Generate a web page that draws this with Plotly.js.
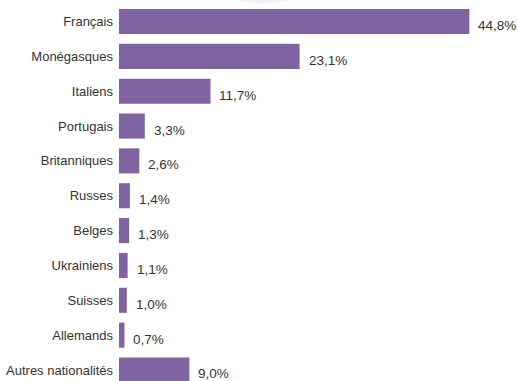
<!DOCTYPE html>
<html><head><meta charset="utf-8">
<script src="https://cdn.plot.ly/plotly-3.0.1.min.js"></script>
<style>html,body{margin:0;padding:0;background:#fff;}#chart{width:517px;height:381px;}</style>
</head><body><div id="chart"></div>
<script>
var categories = ["Français","Monégasques","Italiens","Portugais","Britanniques","Russes","Belges","Ukrainiens","Suisses","Allemands","Autres nationalités"];
var values = [44.8, 23.1, 11.7, 3.3, 2.6, 1.4, 1.3, 1.1, 1.0, 0.7, 9.0];
var valueLabels = ["44,8%","23,1%","11,7%","3,3%","2,6%","1,4%","1,3%","1,1%","1,0%","0,7%","9,0%"];

var FONT = "Liberation Sans, Arial, sans-serif";
var TXT = "#333333";

var trace = {
  type: "bar", orientation: "h",
  x: values, y: categories,
  marker: {color: "#8064a2"},
  width: 0.72,
  hoverinfo: "none"
};

var annotations = categories.map(function(c, i){
  return {x: values[i], y: c, xref: "x", yref: "y", text: valueLabels[i],
    showarrow: false, xanchor: "left", yanchor: "middle", xshift: 7, yshift: -4,
    font: {family: FONT, size: 13.5, color: TXT}};
});

var layout = {
  width: 517, height: 381,
  margin: {l: 119, r: 7, t: 0, b: 0, pad: 0},
  paper_bgcolor: "#fff", plot_bgcolor: "#fff",
  showlegend: false,
  xaxis: {range: [0, 50], visible: false, fixedrange: true},
  yaxis: {type: "category", range: [10.316, -0.617], showgrid: false, zeroline: false,
    showline: false, ticks: "", ticklabelstandoff: 5,
    tickfont: {family: FONT, size: 13, color: TXT}},
  annotations: annotations,
  shapes: [{type: "path", xref: "paper", yref: "paper",
    path: "M 0.29 1 L 0.365 0.99 L 0.44 1 Z",
    fillcolor: "#f3f1f8", line: {width: 0}, layer: "below"}]
};

Plotly.newPlot("chart", [trace], layout, {staticPlot: true, displayModeBar: false});
</script></body></html>
